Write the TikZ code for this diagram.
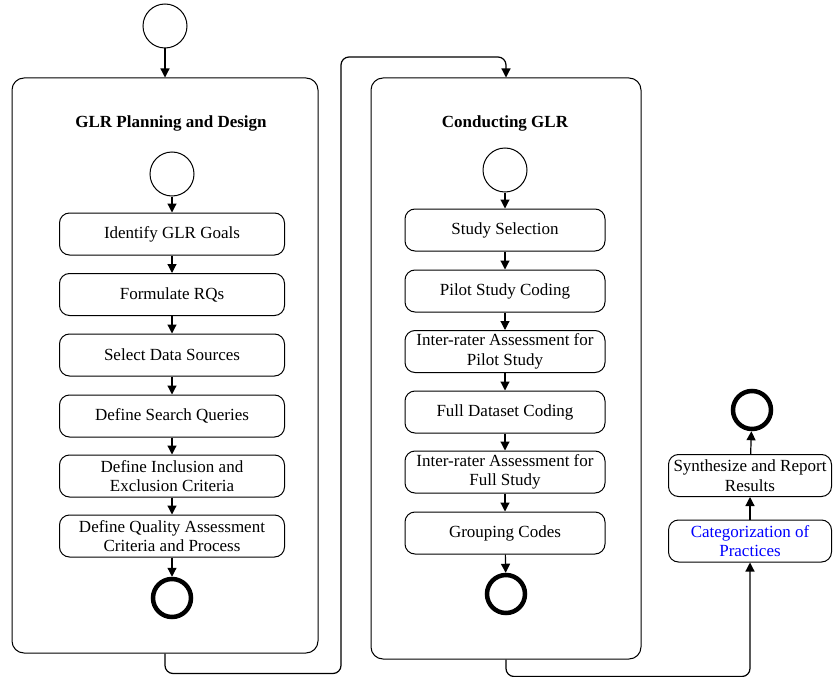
\documentclass[tikz,border=0pt]{standalone}
\usepackage{fontspec}
\setmainfont{Liberation Serif}
\usetikzlibrary{positioning,arrows.meta,shapes.misc}

\begin{document}
\begin{tikzpicture}[x=1pt,y=-1pt,
  font=\fontsize{17}{19.5}\selectfont,
  container/.style={rectangle, draw, rounded corners=12pt, line width=1pt},
  stepbox/.style={rectangle, draw, rounded corners=10pt, line width=1pt, minimum height=42pt, align=center, inner sep=1pt},
  startnode/.style={circle, draw, line width=1pt, minimum size=44pt, inner sep=0pt},
  endnode/.style={circle, draw, line width=4.5pt, minimum size=38pt, inner sep=0pt},
  flow/.style={-{Triangle[length=9pt,width=9pt]}, line width=1.2pt}]

\useasboundingbox (0,0) rectangle (833,677);

% Containers
\draw (165,365.5) node [container, minimum width=306pt, minimum height=575pt] (planning) {};
\draw (506,368.5) node [container, minimum width=270pt, minimum height=581pt] (conducting) {};
\draw (171,123) node [font=\fontsize{17}{19.5}\selectfont\bfseries] (planTitle) {GLR Planning and Design};
\draw (505,123) node [font=\fontsize{17}{19.5}\selectfont\bfseries] (condTitle) {Conducting GLR};

% Start and end points
\draw (165,26) node [startnode] (start) {};
\draw (172,174) node [startnode] (planStart) {};
\draw (172,598) node [endnode] (planEnd) {};
\draw (505,170) node [startnode] (condStart) {};
\draw (506,594) node [endnode] (condEnd) {};
\draw (752,410) node [endnode] (finish) {};

% Planning steps
\draw (172,234) node [stepbox, minimum width=225pt] (goals) {Identify GLR Goals};
\draw (172,294.5) node [stepbox, minimum width=225pt] (rqs) {Formulate RQs};
\draw (172,355) node [stepbox, minimum width=225pt] (sources) {Select Data Sources};
\draw (172,416) node [stepbox, minimum width=225pt] (queries) {Define Search Queries};
\draw (172,476) node [stepbox, minimum width=225pt] (criteria) {Define Inclusion and\\Exclusion Criteria};
\draw (172,536) node [stepbox, minimum width=225pt] (quality) {Define Quality Assessment\\Criteria and Process};

% Conducting steps
\draw (505,230) node [stepbox, minimum width=200pt] (selection) {Study Selection};
\draw (505,291) node [stepbox, minimum width=200pt] (pilot) {Pilot Study Coding};
\draw (505,351.5) node [stepbox, minimum width=200pt] (pilotIRR) {Inter-rater Assessment for\\Pilot Study};
\draw (505,412) node [stepbox, minimum width=200pt] (fullCoding) {Full Dataset Coding};
\draw (505,472) node [stepbox, minimum width=200pt] (fullIRR) {Inter-rater Assessment for\\Full Study};
\draw (505,533) node [stepbox, minimum width=200pt] (grouping) {Grouping Codes};

% Reporting
\draw (750,541) node [stepbox, minimum width=163pt, text=blue] (categorize) {Categorization of\\Practices};
\draw (750,475.5) node [stepbox, minimum width=163pt] (report) {Synthesize and Report\\Results};

% Lines
\draw [flow] (start)--(planning);
\draw [flow] (planStart)--(goals);
\draw [flow] (goals)--(rqs);
\draw [flow] (rqs)--(sources);
\draw [flow] (sources)--(queries);
\draw [flow] (queries)--(criteria);
\draw [flow] (criteria)--(quality);
\draw [flow] (quality)--(planEnd);

\draw [flow] (condStart)--(selection);
\draw [flow] (selection)--(pilot);
\draw [flow] (pilot)--(pilotIRR);
\draw [flow] (pilotIRR)--(fullCoding);
\draw [flow] (fullCoding)--(fullIRR);
\draw [flow] (fullIRR)--(grouping);
\draw [flow] (grouping)--(condEnd);

\draw [flow, rounded corners=8pt] (planning.south) -- ++(0,20) -| (341,57) -| (conducting.north);
\draw [flow, rounded corners=8pt] (conducting.south) -- ++(0,17) -| (categorize.south);
\draw [flow] (categorize)--(report);
\draw [flow] (report)--(finish);
\end{tikzpicture}
\end{document}
